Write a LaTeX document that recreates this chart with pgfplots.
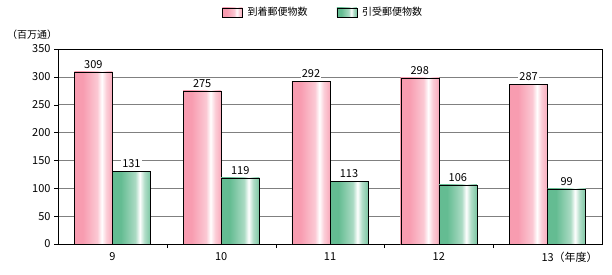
\documentclass[border=0pt]{standalone}
\usepackage{pgfplots}
\pgfplotsset{compat=1.18}
\usepackage{fontspec}
\setmainfont{Noto Sans CJK JP}

\definecolor{pinkc}{RGB}{248,156,176}
\definecolor{greenc}{RGB}{100,188,146}
\definecolor{gridc}{RGB}{128,128,128}

% bar shadings: saturated on the left, a white highlight at about 3/4 of the width
\pgfdeclarehorizontalshading{pinkbar}{100bp}{color(0bp)=(pinkc); color(25bp)=(pinkc); color(36bp)=(pinkc); color(55bp)=(pinkc!55!white); color(61bp)=(white); color(67bp)=(pinkc!50!white); color(75bp)=(pinkc!85!white); color(100bp)=(pinkc!85!white)}
\pgfdeclarehorizontalshading{greenbar}{100bp}{color(0bp)=(greenc); color(25bp)=(greenc); color(36bp)=(greenc); color(55bp)=(greenc!55!white); color(61bp)=(white); color(67bp)=(greenc!50!white); color(75bp)=(greenc!85!white); color(100bp)=(greenc!85!white)}

\pgfplotsset{
  arrived/.style={bar shift=-0.175, draw=black, shading=pinkbar},
  accepted/.style={bar shift=0.175, draw=black, shading=greenbar},
}

\begin{document}
\begin{tikzpicture}
\path[use as bounding box] (0,0) rectangle (612pt,274pt);
\begin{axis}[
  at={(58pt,30pt)}, anchor=south west,
  scale only axis, width=544pt, height=195pt,
  xmin=-0.5, xmax=4.5, ymin=0, ymax=350,
  ytick={0,50,...,350},
  xtick={0,1,2,3,4},
  xticklabels={9,10,11,12,13\rlap{（年度）}},
  minor xtick={0.5,1.5,2.5,3.5},
  xtick pos=bottom, ytick pos=left,
  xtick align=inside, ytick align=outside,
  major x tick style={draw=none},
  minor x tick style={black},
  major tick length=4pt, minor tick length=4pt,
  y tick style={black},
  ymajorgrids, y grid style={gridc, line width=0.6pt},
  axis line style={black, line width=0.6pt},
  tick label style={font=\fontsize{11}{13}\selectfont},
  xticklabel style={yshift=-1pt},
  /pgf/number format/assume math mode=true,
  ybar, bar width=0.35,
  nodes near coords,
  every node near coord/.append style={font=\fontsize{11}{13}\selectfont, fill=white, inner sep=1pt, yshift=2pt},
  legend columns=2,
  legend style={at={(0.3015,1.225)}, anchor=north west, draw=none, inner sep=0pt,
    font=\fontsize{10}{12}\selectfont,
    /tikz/every odd column/.append style={column sep=3pt},
    /tikz/every even column/.append style={column sep=27pt}},
  legend image code/.code={\path[#1, draw=black] (0pt,-4.5pt) rectangle (20pt,4.5pt);},
]
% one plot per bar, so that each bar carries its own shading
\addplot[arrived] coordinates {(0,309)};
\addlegendentry{到着郵便物数}
\addplot[accepted] coordinates {(0,131)};
\addlegendentry{引受郵便物数}
\addplot[arrived, forget plot] coordinates {(1,275)};
\addplot[arrived, forget plot] coordinates {(2,292)};
\addplot[arrived, forget plot] coordinates {(3,298)};
\addplot[arrived, forget plot] coordinates {(4,287)};
\addplot[accepted, forget plot] coordinates {(1,119)};
\addplot[accepted, forget plot] coordinates {(2,113)};
\addplot[accepted, forget plot] coordinates {(3,106)};
\addplot[accepted, forget plot] coordinates {(4,99)};
\end{axis}
\node[font=\fontsize{10}{12}\selectfont] at (32pt,239pt) {（百万通）};
\end{tikzpicture}
\end{document}
